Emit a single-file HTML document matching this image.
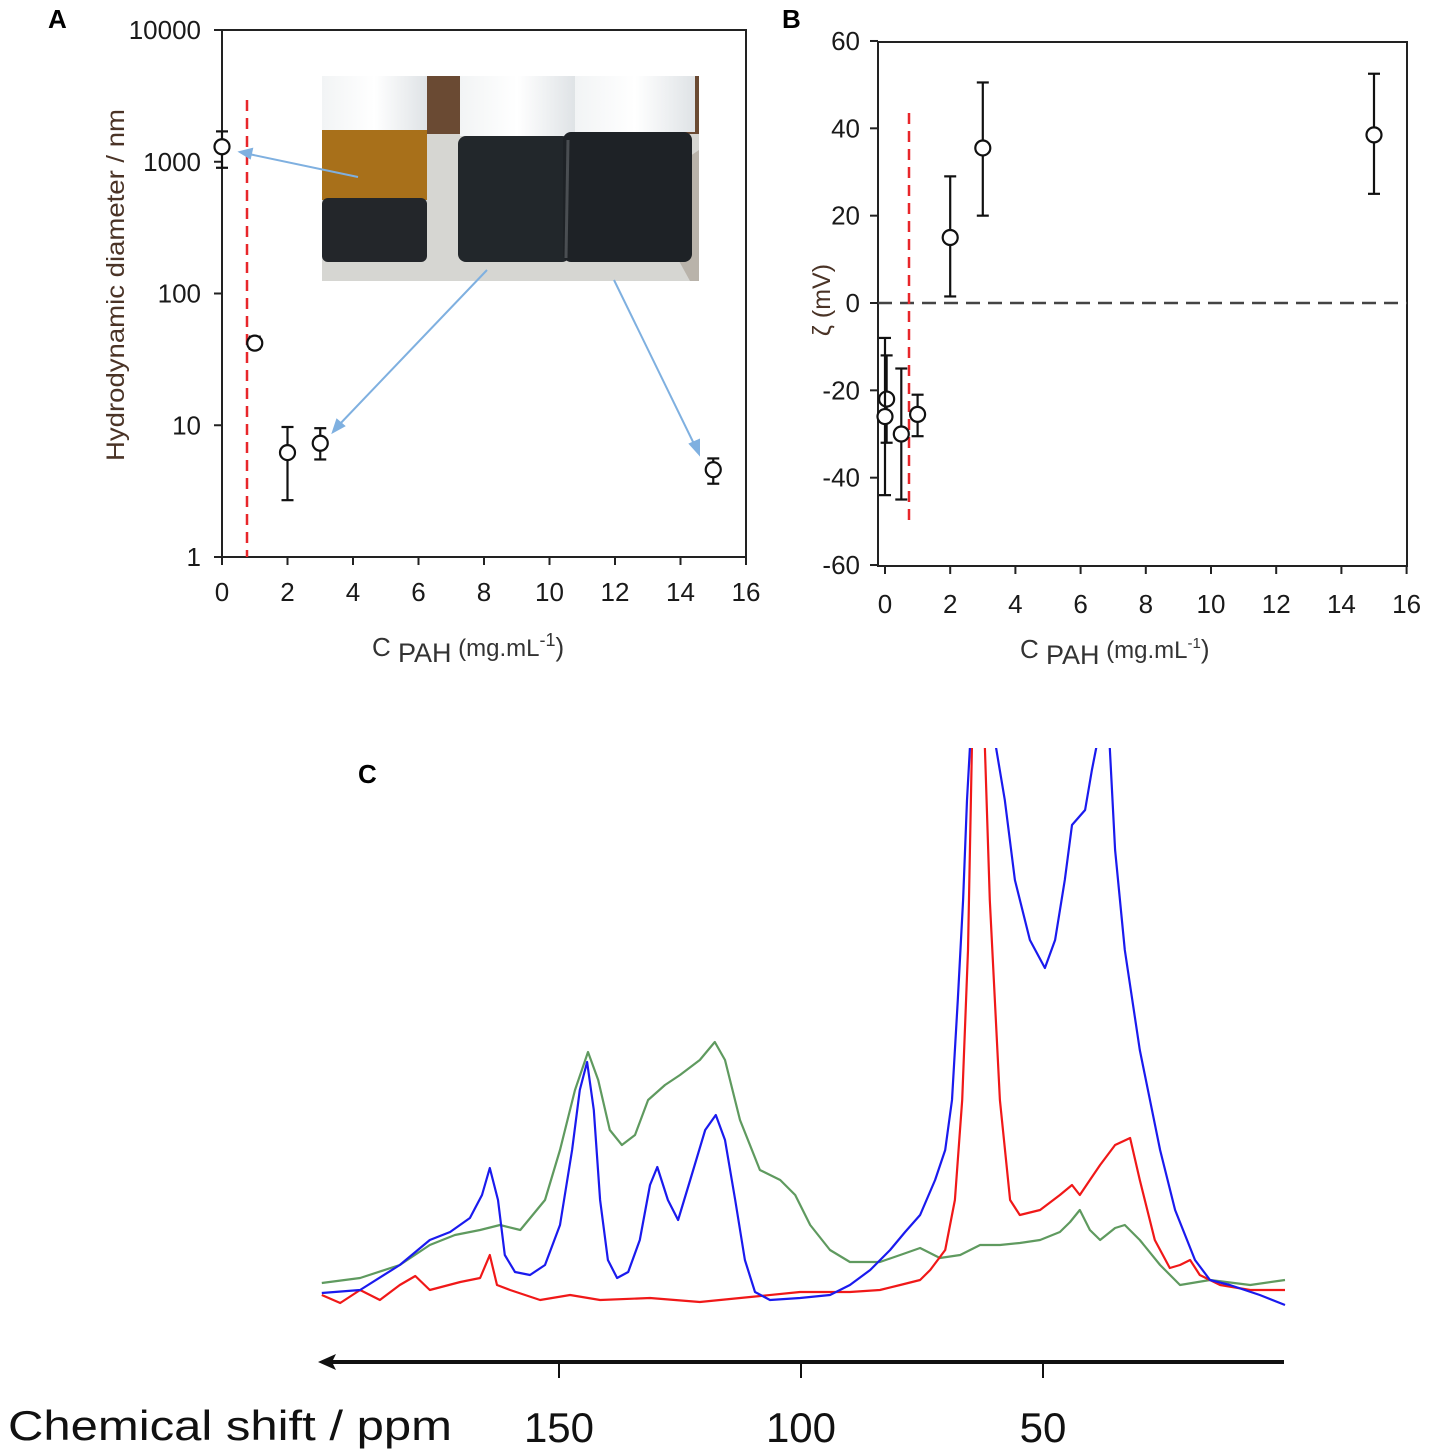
<!DOCTYPE html>
<html><head><meta charset="utf-8">
<style>
html,body{margin:0;padding:0;background:#fff;}
svg{display:block;font-family:"Liberation Sans",sans-serif;}
</style></head>
<body>
<svg id="fig" width="1429" height="1455" viewBox="0 0 1429 1455" xmlns="http://www.w3.org/2000/svg">
  <defs>
    <clipPath id="clipC"><rect x="300" y="748" width="1000" height="570"/></clipPath>
    <linearGradient id="capG" x1="0" x2="1"><stop offset="0" stop-color="#f2f4f5"/><stop offset="0.5" stop-color="#ffffff"/><stop offset="1" stop-color="#dfe3e6"/></linearGradient>
  </defs>

  <!-- Panel A -->
  <g>
    <text x="48" y="28" font-size="26" font-weight="bold">A</text>
    <rect x="222" y="30" width="524" height="527" fill="none" stroke="#222" stroke-width="2"/>
    <g>
      <rect x="322" y="76" width="377" height="205" fill="#d6d6d2"/>
      <rect x="322" y="76" width="377" height="58" fill="#6a4a33"/>
      <polygon points="640,190 699,150 699,281 690,281" fill="#b9b3aa"/>
      <rect x="322" y="76" width="105" height="54" fill="url(#capG)"/>
      <rect x="322" y="130" width="105" height="70" fill="#a8701a"/>
      <rect x="322" y="198" width="105" height="64" rx="6" fill="#23262a"/>
      <rect x="460" y="76" width="115" height="60" fill="url(#capG)"/>
      <rect x="458" y="136" width="112" height="126" rx="8" fill="#22272b"/>
      <rect x="575" y="76" width="120" height="56" fill="url(#capG)"/>
      <rect x="563" y="132" width="129" height="130" rx="8" fill="#1e2226"/>
      <line x1="568" y1="140" x2="566" y2="258" stroke="#4a4e52" stroke-width="3"/>
    </g>
    <g id="aAxes"></g>
    <line x1="247" y1="100" x2="247" y2="557" stroke="#e8262a" stroke-width="2.5" stroke-dasharray="11,7"/>
    <g id="aPts"></g>
    <g stroke="#7fb0e0" stroke-width="2" fill="#7fb0e0">
      <line x1="358" y1="177" x2="244" y2="153"/><polygon points="240,152 252,149 250,158"/>
      <line x1="487" y1="270" x2="338" y2="426"/><polygon points="333,432 337,420 344,426"/>
      <line x1="614" y1="280" x2="696" y2="448"/><polygon points="699,454 690,444 699,440"/>
    </g>
    <text transform="translate(124,285) rotate(-90)" text-anchor="middle" font-size="25" textLength="352" lengthAdjust="spacingAndGlyphs" fill="#4a3326">Hydrodynamic diameter / nm</text>
    <text x="372" y="656" font-size="26" fill="#333">C <tspan dy="6" font-size="27">PAH</tspan><tspan dy="-6" font-size="24"> (mg.mL</tspan><tspan dy="-10" font-size="18">-1</tspan><tspan dy="10" font-size="26">)</tspan></text>
  </g>

  <!-- Panel B -->
  <g>
    <text x="782" y="28" font-size="26" font-weight="bold">B</text>
    <rect x="878" y="42" width="529" height="524" fill="none" stroke="#222" stroke-width="2"/>
    <g id="bAxes"></g>
    <line x1="878" y1="303" x2="1407" y2="303" stroke="#444" stroke-width="2.5" stroke-dasharray="14,8"/>
    <line x1="909" y1="113" x2="909" y2="522" stroke="#e8262a" stroke-width="2.5" stroke-dasharray="11,7"/>
    <g id="bPts"></g>
    <text transform="translate(830,300) rotate(-90)" text-anchor="middle" font-size="25" fill="#4a3326">ζ (mV)</text>
    <text x="1020" y="658" font-size="26" fill="#333">C <tspan dy="6" font-size="27">PAH</tspan><tspan dy="-6" font-size="24"> (mg.mL</tspan><tspan dy="-10" font-size="15">-1</tspan><tspan dy="10" font-size="26">)</tspan></text>
  </g>

  <!-- Panel C -->
  <g>
    <text x="358" y="783" font-size="26" font-weight="bold">C</text>
    <g id="cLines" clip-path="url(#clipC)"></g>
    <line x1="332" y1="1362" x2="1284" y2="1362" stroke="#111" stroke-width="4"/>
    <polygon points="318,1362 336,1354 332,1362 336,1370" fill="#111"/>
    <g id="cTicks"></g>
    <text x="8" y="1440" font-size="42" textLength="444" lengthAdjust="spacingAndGlyphs" fill="#111">Chemical shift / ppm</text>
  </g>
</svg>
<script>
const NS='http://www.w3.org/2000/svg';
// Panel A data
const aTicksX=[0,2,4,6,8,10,12,14,16];
const aTicksY=[1,10,100,1000,10000];
const aX=[0,1,2,3,15];
const aY=[1300,42,6.2,7.3,4.6];
const aLo=[900,38,2.7,5.5,3.6];
const aHi=[1700,47,9.7,9.5,5.6];
// Panel B data
const bTicksX=[0,2,4,6,8,10,12,14,16];
const bTicksY=[-60,-40,-20,0,20,40,60];
const bX=[0.05,0,0.5,1,2,3,15];
const bY=[-22,-26,-30,-25.5,15,35.5,38.5];
const bLo=[-32,-44,-45,-30.5,1.5,20,25];
const bHi=[-12,-8,-15,-21,29,50.5,52.5];
// Panel C data
const cTicks=[150,100,50];
const blueP=[199,191.1,182.9,176.7,172.5,168.4,165.9,164.3,162.6,161.2,159.1,156,152.9,149.8,147.3,145.7,144.2,142.8,141.5,139.9,138,135.7,133.3,131.2,129.7,127.5,125.4,122.9,119.8,117.6,115.7,113.6,111.6,109.5,106.4,100.2,94,89.9,85.7,81.6,78.5,75.4,72.3,70.2,68.8,67.6,66.5,65.7,65.1,64,62.4,61,59.7,57.9,55.8,52.7,49.6,47.5,45.5,44,41.3,39.9,39,38.2,37.4,36.6,36.2,35.1,33.1,30,25.8,22.7,18.6,15.5,11.4,5.2,0];
const blueI=[7,10,35,60,68,82,105,132,100,45,28,25,35,75,150,210,238,190,100,40,22,28,60,115,133,100,80,120,170,185,160,100,40,8,0,2,5,15,30,50,68,85,120,150,200,300,400,500,552,900,1000,900,552,500,420,360,332,360,420,475,490,530,552,700,800,700,552,450,350,250,150,90,40,20,15,5,-5];
const redP=[199,195.2,191.1,187,182.9,179.7,176.7,170.4,166.3,164.3,162.8,160.1,153.9,147.7,141.5,131.2,120.9,110.5,100.2,89.9,83.7,79.5,75.4,73.3,70.2,68.2,66.7,65.5,64.7,63.8,62.8,62,61,58.9,56.8,54.8,50.6,46.5,44,42.4,40.3,38.2,35.1,32,30,26.9,23.8,21.7,19.6,17.6,13.4,7.2,0];
const redI=[5,-3,10,0,15,24,10,18,22,45,15,10,0,5,0,2,-2,3,8,8,10,15,20,30,50,100,200,350,552,800,800,552,400,200,100,85,90,105,115,105,120,135,155,162,120,60,32,35,40,25,15,10,10];
const greenP=[199,191.1,182.9,176.7,171.5,166.3,162.2,158,152.9,149.8,146.7,144,141.9,139.5,137,134.3,131.6,128.1,125,120.9,117.8,115.7,112.6,108.5,104.3,101.2,98.1,94,89.9,83.7,79.5,75.4,71.3,67.1,63,58.9,54.8,50.6,46.5,44.4,42.4,40.3,38.2,35.1,33.1,30,25.8,21.7,15.5,7.2,0];
const greenI=[17,22,35,55,65,70,75,70,100,150,210,248,220,170,155,165,200,215,225,240,258,240,180,130,120,105,75,50,38,38,45,52,42,45,55,55,57,60,68,78,90,70,60,72,75,60,35,15,20,15,20];

const axA={x:v=>222+v*32.75,y:v=>557-Math.log10(v)*131.75};
const axB={x:v=>885+v*32.6,y:v=>303-v*4.367};
const axC={x:p=>1285-p*4.84,y:i=>1300-i};

function mk(tag,attrs,parent){const e=document.createElementNS(NS,tag);for(const k in attrs)e.setAttribute(k,attrs[k]);parent.appendChild(e);return e;}

// Panel A axes
const aAx=document.getElementById('aAxes');
aTicksX.forEach(t=>{
  const l=mk('line',{x1:axA.x(t),x2:axA.x(t),y1:557,y2:565,stroke:'#222','stroke-width':2},aAx);
  
  
  const tx=mk('text',{x:axA.x(t),y:601,'text-anchor':'middle','font-size':26,fill:'#1a1a1a'},aAx);
  tx.textContent=t;
  
  
});
aTicksY.forEach(t=>{
  const l=mk('line',{x1:214,x2:222,y1:axA.y(t),y2:axA.y(t),stroke:'#222','stroke-width':2},aAx);
  
  
  const tx=mk('text',{x:201,y:axA.y(t)+9,'text-anchor':'end','font-size':26,fill:'#1a1a1a'},aAx);
  tx.textContent=t;
  
  
});
const aP=document.getElementById('aPts');
aX.forEach((x,i)=>{
  const g=mk('g',{stroke:'#111','stroke-width':2.2},aP);
  
  
  const cx=axA.x(x);
  mk('line',{x1:cx,x2:cx,y1:axA.y(aLo[i]),y2:axA.y(aHi[i])},g);
  mk('line',{x1:cx-6,x2:cx+6,y1:axA.y(aLo[i]),y2:axA.y(aLo[i])},g);
  mk('line',{x1:cx-6,x2:cx+6,y1:axA.y(aHi[i]),y2:axA.y(aHi[i])},g);
  mk('circle',{cx:cx,cy:axA.y(aY[i]),r:7.5,fill:'#fff'},g);
});

// Panel B axes
const bAx=document.getElementById('bAxes');
bTicksX.forEach(t=>{
  const l=mk('line',{x1:axB.x(t),x2:axB.x(t),y1:566,y2:574,stroke:'#222','stroke-width':2},bAx);
  
  
  const tx=mk('text',{x:axB.x(t),y:613,'text-anchor':'middle','font-size':26,fill:'#1a1a1a'},bAx);
  tx.textContent=t;
  
  
});
bTicksY.forEach(t=>{
  const l=mk('line',{x1:870,x2:878,y1:axB.y(t),y2:axB.y(t),stroke:'#222','stroke-width':2},bAx);
  
  
  const tx=mk('text',{x:860,y:axB.y(t)+9,'text-anchor':'end','font-size':26,fill:'#1a1a1a'},bAx);
  tx.textContent=t;
  
  
});
const bP=document.getElementById('bPts');
bX.forEach((x,i)=>{
  const g=mk('g',{stroke:'#111','stroke-width':2.2},bP);
  
  
  const cx=axB.x(x);
  mk('line',{x1:cx,x2:cx,y1:axB.y(bLo[i]),y2:axB.y(bHi[i])},g);
  mk('line',{x1:cx-6,x2:cx+6,y1:axB.y(bLo[i]),y2:axB.y(bLo[i])},g);
  mk('line',{x1:cx-6,x2:cx+6,y1:axB.y(bHi[i]),y2:axB.y(bHi[i])},g);
  mk('circle',{cx:cx,cy:axB.y(bY[i]),r:7.5,fill:'#fff'},g);
});

// Panel C
const cL=document.getElementById('cLines');
function spec(P,I,col,name){
  const d=P.map((p,i)=>(i?'L':'M')+axC.x(p).toFixed(1)+','+axC.y(I[i]).toFixed(1)).join(' ');
  const e=mk('path',{d:d,fill:'none',stroke:col,'stroke-width':2.2,'stroke-linejoin':'round'},cL);
  
  
}
spec(greenP,greenI,'#5f9a5f','spectrum-green');
spec(redP,redI,'#f01818','spectrum-red');
spec(blueP,blueI,'#1a1aee','spectrum-blue');
const cT=document.getElementById('cTicks');
cTicks.forEach(t=>{
  const l=mk('line',{x1:axC.x(t),x2:axC.x(t),y1:1362,y2:1378,stroke:'#111','stroke-width':2},cT);
  
  
  const tx=mk('text',{x:axC.x(t),y:1442,'text-anchor':'middle','font-size':42,fill:'#111'},cT);
  tx.textContent=t;
  
  
});
</script>
</body></html>
